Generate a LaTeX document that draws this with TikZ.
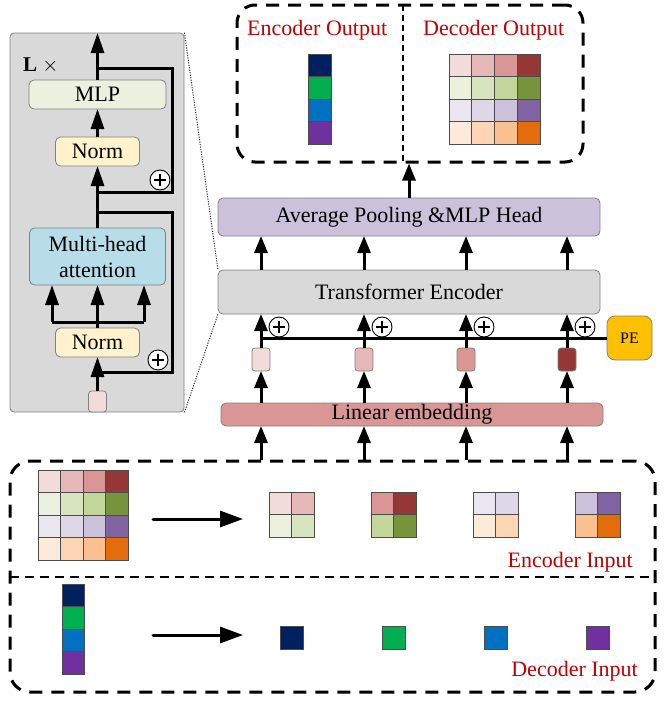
\documentclass[tikz,border=0pt]{standalone}
\usepackage{fontspec}
\setmainfont{Liberation Serif}
\usetikzlibrary{arrows.meta}
\definecolor{c11}{HTML}{F2DCDB}\definecolor{c12}{HTML}{E6B9B8}\definecolor{c13}{HTML}{D99694}\definecolor{c14}{HTML}{953735}
\definecolor{c21}{HTML}{EBF1DE}\definecolor{c22}{HTML}{D7E4BD}\definecolor{c23}{HTML}{C3D69B}\definecolor{c24}{HTML}{77933C}
\definecolor{c31}{HTML}{EAE6F0}\definecolor{c32}{HTML}{DDD7E7}\definecolor{c33}{HTML}{CCC1DA}\definecolor{c34}{HTML}{8064A2}
\definecolor{c41}{HTML}{FDEADA}\definecolor{c42}{HTML}{FCD5B5}\definecolor{c43}{HTML}{FAC090}\definecolor{c44}{HTML}{E46C0A}
\definecolor{d1}{HTML}{002060}\definecolor{d2}{HTML}{00B050}\definecolor{d3}{HTML}{0070C0}\definecolor{d4}{HTML}{7030A0}
\definecolor{redtxt}{HTML}{C00000}
\definecolor{mlpc}{HTML}{EBF1DE}
\definecolor{normc}{HTML}{FFF2CC}
\definecolor{mhac}{HTML}{B7DEE8}
\definecolor{panelc}{HTML}{D9D9D9}
\definecolor{avgc}{HTML}{CCC1DA}
\definecolor{tec}{HTML}{D9D9D9}
\definecolor{pec}{HTML}{FFC000}
\newcommand\fsz{\fontsize{22}{26}\selectfont}
\begin{document}
\begin{tikzpicture}[x=1pt,y=-1pt,
 bx/.style={draw=black!50, line width=0.8pt, rounded corners=5pt, inner sep=0pt, outer sep=0pt, font=\fsz, align=center},
 ln/.style={line width=3pt},
 arrA/.style={line width=3pt, -{Triangle[length=17pt,width=13pt]}},
 arrL/.style={line width=3pt, -{Triangle[length=20pt,width=13pt]}},
 arrH/.style={line width=3pt, line cap=round, -{Triangle[length=23pt,width=16pt]}},
 dbox/.style={line width=3pt, dash pattern=on 13pt off 9pt},
 cellc/.style={draw=black!70, line width=0.7pt},
 dotline/.style={line width=1pt, draw=black!80, dash pattern=on 1.2pt off 1.3pt},
 plusc/.style={circle, draw, fill=white, line width=0.9pt, minimum size=20pt, inner sep=0pt,
   path picture={\draw[line width=1.7pt] ([xshift=-6pt]path picture bounding box.center) -- ([xshift=6pt]path picture bounding box.center) ([yshift=-6pt]path picture bounding box.center) -- ([yshift=6pt]path picture bounding box.center);}},
 lab/.style={font=\fsz, text=redtxt, inner sep=0pt},
]
\useasboundingbox (0,0) rectangle (665,704);

% ---------- left panel ----------
\node[draw=black!50, fill=panelc, rounded corners=4pt, minimum width=174pt, minimum height=379pt, inner sep=0pt, line width=0.8pt] (panel) at (97,222.5) {};
\node[bx, fill=mlpc, minimum width=137pt, minimum height=29pt] (mlp) at (97.5,94.5) {MLP};
\node[bx, fill=normc, minimum width=84pt, minimum height=29pt] (norm1) at (97.5,151.5) {Norm};
\node[bx, fill=mhac, minimum width=136pt, minimum height=57pt] (mha) at (97.5,256.5) {Multi-head\\attention};
\node[bx, fill=normc, minimum width=84pt, minimum height=29pt] (norm2) at (97.5,342.5) {Norm};
\node[bx, fill=c11, rounded corners=3pt, minimum width=18pt, minimum height=21pt] (tokL) at (97.5,401.5) {};
\node[font=\fontsize{21}{22}\selectfont, inner sep=0pt, anchor=west] (lx) at (23,65) {\textbf{L} $\times$};

\coordinate (topL) at (97.5,33);
\coordinate (j1) at (97.5,68);  \coordinate (r1) at (172,68);
\coordinate (j2) at (97.5,192); \coordinate (r2) at (172,192);
\coordinate (j3) at (97.5,212); \coordinate (r3) at (172,212);
\coordinate (j4) at (97.5,322);
\coordinate (j5) at (97.5,372); \coordinate (r4) at (172,372);
\coordinate (a1) at (52,322);   \coordinate (a3) at (144,322);

\draw[arrL] (mlp.north) -- (topL);
\draw[arrL] (norm1.north) -- (mlp.south);
\draw[ln] (j1) -- (r1) -- (r2) -- (j2);
\draw[ln] (mha.north) -- (j2);
\draw[arrL] (j2) -- (norm1.south);
\draw[ln] (j3) -- (r3) -- (r4) -- (j5);
\draw[ln] (norm2.north) -- (j4);
\draw[ln] (a1) -- (a3);
\draw[arrL] (a1) -- (mha.south -| a1);
\draw[arrL] (j4) -- (mha.south);
\draw[arrL] (a3) -- (mha.south -| a3);
\draw[arrL] (tokL.north) -- (norm2.south);
\node[plusc] (p1) at (160,180) {};
\node[plusc] (p2) at (158,360) {};

% ---------- middle stack ----------
\node[bx, fill=avgc, minimum width=382pt, minimum height=38pt] (avg) at (409,217) {Average Pooling \&MLP Head};
\node[bx, fill=tec, minimum width=382pt, minimum height=44pt] (te) at (409,292) {Transformer Encoder};
\node[bx, fill=c13, minimum width=382pt, minimum height=23pt] (le) at (412,414.5) {Linear embedding};
\node[bx, fill=pec, rounded corners=8pt, minimum width=45pt, minimum height=44pt, font=\fontsize{16}{18}\selectfont] (pe) at (629.5,338) {PE};

\draw[dotline] (panel.north east) -- (te.north west);
\draw[dotline] (panel.south east) -- (te.south west);

% ---------- output box ----------
\node[dbox, draw, rounded corners=18pt, minimum width=346pt, minimum height=157pt, inner sep=0pt] (outbox) at (410,83.5) {};
\draw[line width=1.2pt, dash pattern=on 6pt off 4pt] (403,5) -- (403,162);
\draw[arrA] (avg.north) -- (outbox.south -| avg.north);
\node[lab, anchor=base west] (eo) at (247,35) {Encoder Output};
\node[lab, anchor=base west] (do) at (423,35) {Decoder Output};
\foreach \r in {1,...,4} {
  \draw[cellc, fill=d\r] (308,{54+(\r-1)*22.5}) rectangle ++(23,22.5);
  \foreach \c in {1,...,4}
    \draw[cellc, fill=c\r\c] ({449+(\c-1)*22.75},{54+(\r-1)*22.5}) rectangle ++(22.75,22.5);
}

% ---------- input box ----------
\node[dbox, draw, rounded corners=20pt, minimum width=645pt, minimum height=231pt, inner sep=0pt] (inbox) at (332.5,576.5) {};
\draw[line width=2pt, dash pattern=on 9pt off 6pt] (10,577) -- (655,577);

\coordinate (pl) at (261,338);
\draw[ln] (pl) -- (pe.west);
\foreach \i/\x/\c in {1/261/c11,2/364/c12,3/466/c13,4/567/c14} {
  \node[bx, fill=\c, rounded corners=3pt, minimum width=18pt, minimum height=23pt] (t\i) at (\x,359.5) {};
  \draw[arrA] (t\i.north) -- (te.south -| t\i.north);
  \draw[arrA] (le.north -| t\i.south) -- (t\i.south);
  \draw[arrA] (te.north -| t\i.north) -- (avg.south -| t\i.north);
  \draw[arrA] (inbox.north -| t\i.south) -- (le.south -| t\i.south);
  \node[plusc] (q\i) at (\x+18,327) {};
}

% input grid
\foreach \r in {1,...,4} {
  \draw[cellc, fill=d\r] (62,{584+(\r-1)*22.5}) rectangle ++(22,22.5);
  \foreach \c in {1,...,4}
    \draw[cellc, fill=c\r\c] ({38+(\c-1)*22.5},{470+(\r-1)*22.5}) rectangle ++(22.5,22.5);
}
% patches
\foreach \x/\ra/\ca in {269/1/1, 371/1/3, 473/3/1, 575/3/3} {
  \foreach \i in {0,1} {
    \foreach \j in {0,1} {
      \pgfmathtruncatemacro\rr{\ra+\i}
      \pgfmathtruncatemacro\cc{\ca+\j}
      \draw[cellc, fill=c\rr\cc] ({\x+\j*22.5},{492+\i*22.5}) rectangle ++(22.5,22.5);
    }
  }
}
% decoder tokens
\foreach \k/\x in {1/280,2/382,3/484,4/586}
  \draw[cellc, fill=d\k] (\x,626) rectangle ++(23,23);

\coordinate (h1s) at (153,519); \coordinate (h1e) at (243,519);
\coordinate (h2s) at (153,635); \coordinate (h2e) at (243,635);
\draw[arrH] (h1s) -- (h1e);
\draw[arrH] (h2s) -- (h2e);

\node[lab, anchor=base east] (ei) at (633,567) {Encoder Input};
\node[lab, anchor=base east] (di) at (638,676) {Decoder Input};
\end{tikzpicture}
\end{document}
